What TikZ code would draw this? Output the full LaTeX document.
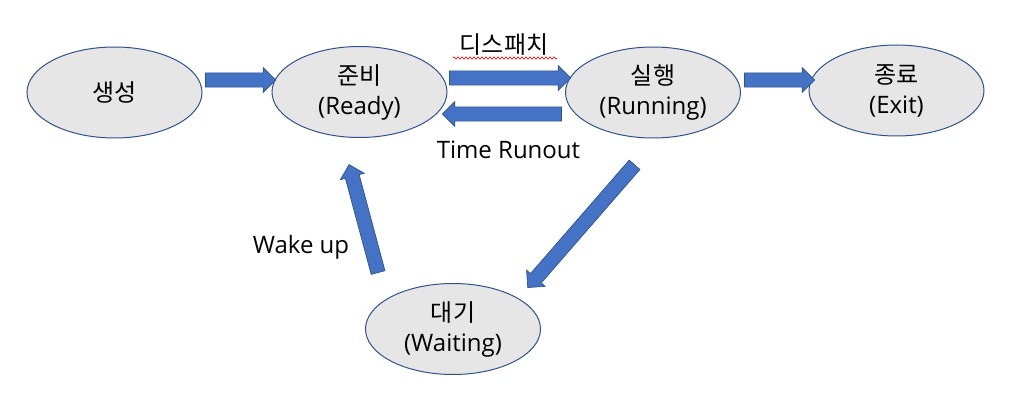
\documentclass[tikz,border=0pt]{standalone}
\usepackage{fontspec}
\setmainfont{Open Sans}
\newfontfamily\kr{Noto Sans CJK KR}
\usetikzlibrary{shapes.geometric,shapes.arrows,calc,decorations.pathmorphing}
\definecolor{ellfill}{RGB}{231,230,230}
\definecolor{ellline}{RGB}{47,82,143}
\definecolor{arrfill}{RGB}{68,114,196}
\definecolor{arrline}{RGB}{47,82,143}
\tikzset{
 state/.style={ellipse, draw=ellline, line width=0.75pt, fill=ellfill,
   minimum width=131.25pt, minimum height=68.25pt, inner sep=0pt,
   align=center, font=\fontsize{18}{22.5}\selectfont},
 lbl/.style={font=\fontsize{18}{22.5}\selectfont, inner sep=0pt},
 barrow/.style={single arrow, fill=arrfill, draw=arrline, line width=0.5pt,
   single arrow head extend=3.9pt, minimum width=0pt, inner ysep=5.1pt,
   inner xsep=0pt, text height=0pt, text depth=0pt, text width=0pt},
 squiggle/.style={draw=red, line width=0.5pt, decorate,
   decoration={zigzag, segment length=3pt, amplitude=0.8pt}}
}
\newcommand\blockarrow[2]{\path let \p1=(#1), \p2=(#2),
  \n1={atan2(\y2-\y1,\x2-\x1)}, \n2={veclen(\x2-\x1,\y2-\y1)} in
  node[barrow, minimum height=\n2, rotate=\n1] at ($(#1)!0.5!(#2)$) {};}
\begin{document}
\begin{tikzpicture}[x=0.75pt,y=-0.75pt]
\fill[white] (0,0) rectangle (1020,406);
\path[use as bounding box] (0,0) rectangle (1020,406);
% states
\node[state] (gen) at (114.5,92.5) {\kr 생성};
\node[state] (ready) at (359.5,92) {{\kr 준비}\\(Ready)};
\node[state] (run) at (653,92.5) {{\kr 실행}\\(Running)};
\node[state] (exit) at (896.5,90.5) {{\kr 종료}\\(Exit)};
\node[state] (wait) at (453,329) {{\kr 대기}\\(Waiting)};
% arrow end points
\coordinate (a1s) at (202,80);  \coordinate (a1e) at (272,80);
\coordinate (a2s) at (446,78);  \coordinate (a2e) at (567,78);
\coordinate (a3s) at (565,114); \coordinate (a3e) at (446,114);
\coordinate (a4s) at (741,80);  \coordinate (a4e) at (811,80);
\coordinate (a5s) at (637,162); \coordinate (a5e) at (530,285);
\coordinate (a6s) at (379,276); \coordinate (a6e) at (350,168);
\blockarrow{a1s}{a1e}
\blockarrow{a2s}{a2e}
\blockarrow{a3s}{a3e}
\blockarrow{a4s}{a4e}
\blockarrow{a5s}{a5e}
\blockarrow{a6s}{a6e}
% labels
\node[lbl] (disp) at (504,45) {\kr 디스패치};
\coordinate (sq1) at (453,58); \coordinate (sq2) at (557,58);
\path[squiggle] (sq1) -- (sq2);
\node[lbl, anchor=base] (tro) at (508.5,158) {Time Runout};
\node[lbl, anchor=base] (wake) at (301,253) {Wake up};
\end{tikzpicture}
\end{document}
